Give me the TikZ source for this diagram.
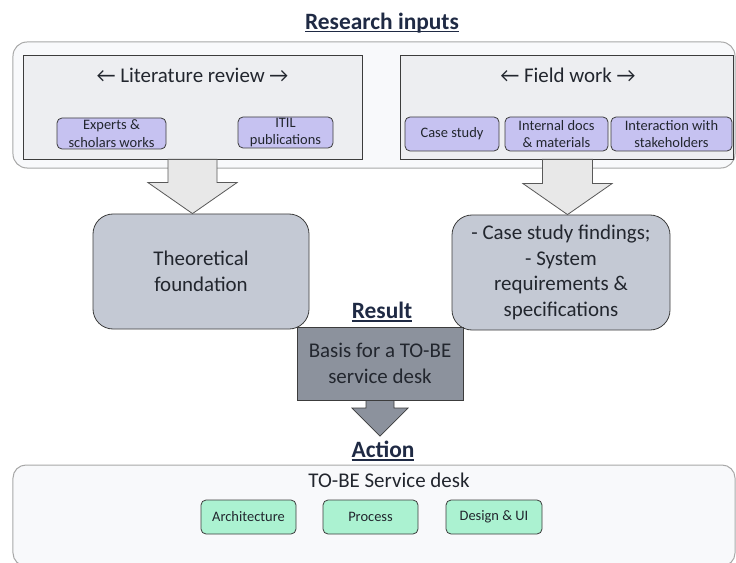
\documentclass[tikz,border=0pt]{standalone}
\usepackage{fontspec}
\setmainfont{Carlito}
\usetikzlibrary{calc}
\definecolor{ink}{HTML}{22262E}
\definecolor{heading}{HTML}{1F2A44}
\definecolor{outerfill}{HTML}{F8F9FB}
\definecolor{outerline}{HTML}{A8A8A8}
\definecolor{innerfill}{HTML}{EDEEF1}
\definecolor{boxline}{HTML}{3C3C3C}
\definecolor{lavender}{HTML}{C6C2F1}
\definecolor{slate}{HTML}{C4C9D4}
\definecolor{darkslate}{HTML}{8C929D}
\definecolor{mint}{HTML}{ABF2D1}
\definecolor{arrowfill}{HTML}{E8E8E8}
% underlined heading text, rule drawn just below the baseline
\newcommand\headtext[1]{\setbox0\hbox{#1}\rlap{\rule[-3bp]{\wd0}{1.5bp}}\box0}
\tikzset{
  base/.style={font=\fontsize{21}{25.5}\selectfont, text=ink, align=center, inner sep=0pt},
  heading/.style={font=\fontsize{23.5}{26}\selectfont\bfseries, text=heading, inner sep=0pt},
  outerbox/.style={draw=outerline, fill=outerfill, rounded corners=14bp, line width=1bp},
  innerbox/.style={draw=boxline, fill=innerfill, line width=0.8bp},
  tagbox/.style={base, font=\fontsize{14.5}{17.5}\selectfont, draw=boxline, fill=lavender, rounded corners=5bp, line width=0.8bp},
  slatebox/.style={base, draw=boxline, fill=slate, rounded corners=20bp, line width=0.8bp},
  resultbox/.style={base, draw=boxline, fill=darkslate, line width=0.8bp},
  mintbox/.style={base, font=\fontsize{14.5}{17.5}\selectfont, draw=boxline, fill=mint, rounded corners=5bp, line width=0.8bp},
  lightarrow/.style={draw=black!65, fill=arrowfill, line width=0.8bp},
  darkarrow/.style={draw=boxline, fill=darkslate, line width=0.8bp},
}
% block arrow: style, from, to, shaft half-width, head half-width, head length
\newcommand\blockarrow[6]{%
  \draw[#1] let \p1=(#2), \p2=(#3) in
    (\x1-#4,\y1) -- (\x1+#4,\y1) -- (\x1+#4,\y2+#6) -- (\x1+#5,\y2+#6)
    -- (\x1,\y2) -- (\x1-#5,\y2+#6) -- (\x1-#4,\y2+#6) -- cycle;}
\begin{document}
\begin{tikzpicture}[x=1bp,y=-1bp]
\useasboundingbox (0,0) rectangle (736,563);

% research inputs
\node[heading] (ttl) at (382,23) {\headtext{Research inputs}};
\node[outerbox, minimum width=722bp, minimum height=126bp] (outer) at (374,105) {};
\node[innerbox, minimum width=339bp, minimum height=104bp] (lit) at (192.5,107) {};
\node[innerbox, minimum width=333bp, minimum height=104bp] (field) at (566.5,107) {};
\node[base] (litt) at (192.5,75) {← Literature review →};
\node[base] (fieldt) at (568,75) {← Field work →};
\node[tagbox, minimum width=109bp, minimum height=31bp] (exp) at (111.5,133.5) {Experts \&\\scholars works};
\node[tagbox, minimum width=95bp, minimum height=31bp] (itil) at (285.5,132.5) {ITIL\\publications};
\node[tagbox, minimum width=94bp, minimum height=34bp] (case) at (452,134) {Case study};
\node[tagbox, minimum width=103bp, minimum height=34bp] (docs) at (556.5,134) {Internal docs\\\& materials};
\node[tagbox, minimum width=121bp, minimum height=34bp] (inter) at (671.5,134) {Interaction with\\stakeholders};

% findings
\node[slatebox, minimum width=216bp, minimum height=115bp] (theo) at (201,271.5) {Theoretical\\foundation};
\node[slatebox, minimum width=218bp, minimum height=115bp] (find) at (561,272.5) {- Case study findings;\\- System\\requirements \&\\specifications};

\coordinate (litbot) at (lit.south);
\coordinate (fieldbot) at ([xshift=1bp]field.south);
\blockarrow{lightarrow}{litbot}{theo.north -| litbot}{24.5bp}{44.5bp}{31bp}
\blockarrow{lightarrow}{fieldbot}{find.north -| fieldbot}{25bp}{44.5bp}{31bp}

% result
\node[heading] (res) at (382,312) {\headtext{Result}};
\node[resultbox, minimum width=166bp, minimum height=73bp] (basis) at (380,363.5) {Basis for a TO-BE\\service desk};

% action
\node[heading] (act) at (383,451) {\headtext{Action}};
\node[outerbox, rounded corners=13bp, minimum width=722bp, minimum height=101bp] (desk) at (374,515.5) {};
\node[base] (deskt) at (389,480) {TO-BE Service desk};
\node[mintbox, minimum width=95bp, minimum height=34bp] (arch) at (248.5,517) {Architecture};
\node[mintbox, minimum width=95bp, minimum height=34bp] (proc) at (370.5,517) {Process};
\node[mintbox, minimum width=96bp, minimum height=34bp] (ui) at (494,517) {Design \& UI};

\coordinate (tip) at ([yshift=5bp]act.north -| basis.south);
\blockarrow{darkarrow}{basis.south}{tip}{14bp}{28bp}{28bp}
\end{tikzpicture}
\end{document}
